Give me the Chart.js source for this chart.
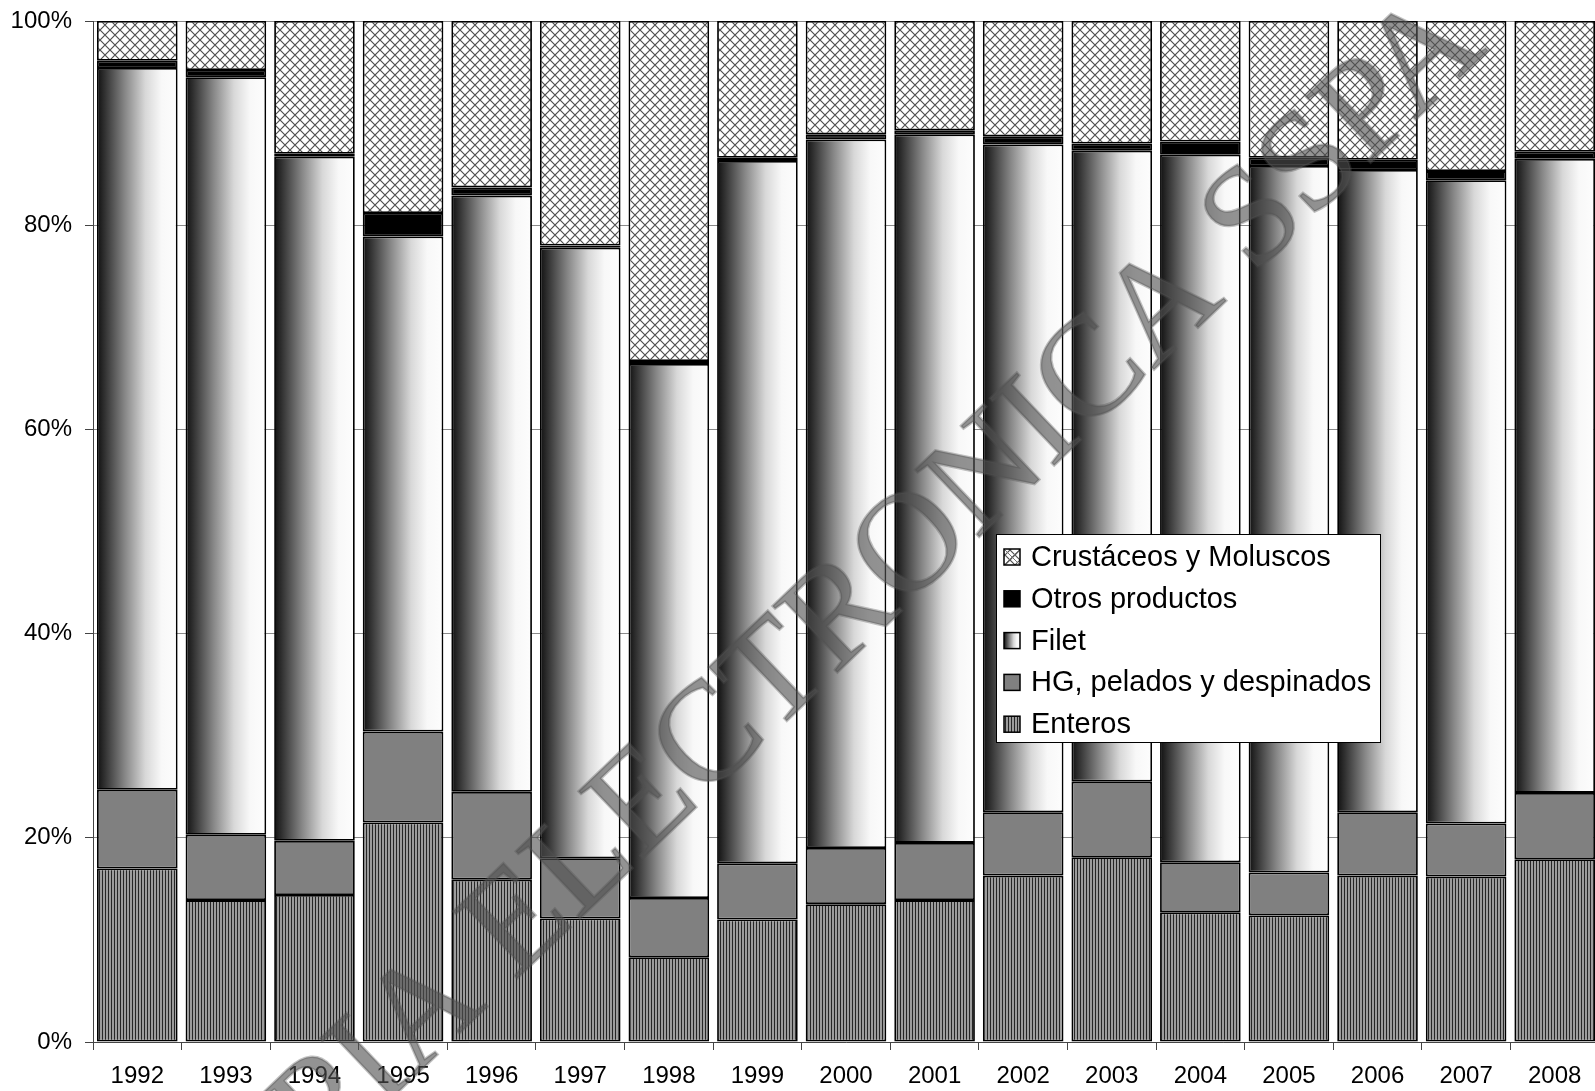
<!DOCTYPE html>
<html>
<head>
<meta charset="utf-8">
<script src="https://cdn.jsdelivr.net/npm/chart.js@4.4.1/dist/chart.umd.min.js"></script>
<style>
  html, body { margin: 0; padding: 0; background: #fff; overflow: hidden; }
  canvas { display: block; }
</style>
</head>
<body>
<canvas id="fishChart" width="1600" height="1091"></canvas>
<script>
// Datos (% del total por año)
const years = ['1992','1993','1994','1995','1996','1997','1998','1999','2000','2001','2002','2003','2004','2005','2006','2007','2008'];
const enteros    = [17.0, 13.9, 14.4, 21.5, 15.9, 12.1,  8.3, 12.0, 13.5, 13.9, 16.3, 18.1, 12.7, 12.4, 16.3, 16.2, 17.9];
const hg         = [ 7.7,  6.4,  5.3,  8.9,  8.6,  5.9,  5.8,  5.5,  5.5,  5.6,  6.2,  7.4,  4.9,  4.2,  6.2,  5.2,  6.5];
const filet      = [70.7, 74.2, 67.0, 48.5, 58.4, 59.8, 52.3, 68.8, 69.4, 69.4, 65.4, 61.8, 69.3, 69.2, 62.9, 63.0, 62.1];
const otros      = [ 0.7,  0.7,  0.3,  2.3,  0.8,  0.2,  0.3,  0.3,  0.5,  0.4,  0.8,  0.7,  1.3,  0.8,  1.0,  0.9,  0.7];
const crustaceos = [ 3.9,  4.8, 13.0, 18.8, 16.3, 22.0, 33.3, 13.4, 11.1, 10.7, 11.3, 12.0, 11.8, 13.4, 13.6, 14.7, 12.8];
const seriesNames = ['Enteros', 'HG, pelados y despinados', 'Filet', 'Otros productos', 'Crustáceos y Moluscos'];
const yTickStep = 20;

const FONT = '"Liberation Sans", Arial, sans-serif';
const BAR_PCT = 0.91;

// Patrón de rayas verticales (Enteros)
function stripePattern(ctx) {
    const c = document.createElement('canvas');
    c.width = 3; c.height = 4;
    const p = c.getContext('2d');
    p.fillStyle = '#9c9c9c';
    p.fillRect(0, 0, 3, 4);
    p.fillStyle = '#262626';
    p.fillRect(0, 0, 1, 4);
    return ctx.createPattern(c, 'repeat');
}

// Patrón cuadriculado diagonal (Crustáceos y Moluscos)
function hatchPattern(ctx) {
    const c = document.createElement('canvas');
    c.width = 10; c.height = 10;
    const p = c.getContext('2d');
    p.fillStyle = '#fff';
    p.fillRect(0, 0, 10, 10);
    p.strokeStyle = '#505050';
    p.lineWidth = 1.2;
    p.beginPath();
    p.moveTo(0, 0); p.lineTo(10, 10);
    p.moveTo(10, 0); p.lineTo(0, 10);
    p.stroke();
    return ctx.createPattern(c, 'repeat');
}

function filetGradient(ctx, x0, x1) {
    const g = ctx.createLinearGradient(x0, 0, x1, 0);
    g.addColorStop(0, '#101010');
    g.addColorStop(0.35, '#888');
    g.addColorStop(0.6, '#d8d8d8');
    g.addColorStop(0.8, '#f8f8f8');
    g.addColorStop(1, '#fdfdfd');
    return g;
}

const canvas = document.getElementById('fishChart');
const ctx2d = canvas.getContext('2d');
const stripes = stripePattern(ctx2d);
const hatch = hatchPattern(ctx2d);

function filetColor(c) {
    const chart = c.chart;
    const xs = chart.scales.x;
    if (!chart.chartArea || !xs || c.dataIndex === undefined) return '#999';
    const cx = xs.getPixelForValue(c.dataIndex);
    const w = chart.chartArea.width / years.length * BAR_PCT;
    return filetGradient(chart.ctx, cx - w / 2, cx + w / 2);
}

// Leyenda dentro del gráfico
const boxLegend = {
    id: 'boxLegend',
    afterDatasetsDraw(chart) {
        const ctx = chart.ctx;
        const x = 996, y = 534, w = 384, h = 208;
        ctx.save();
        ctx.fillStyle = '#fff';
        ctx.fillRect(x, y, w, h);
        ctx.strokeStyle = '#000';
        ctx.lineWidth = 1;
        ctx.strokeRect(x + 0.5, y + 0.5, w, h);
        const fills = [hatch, '#000', null, '#808080', stripes];
        const names = seriesNames.slice().reverse();
        ctx.font = '29px ' + FONT;
        ctx.textBaseline = 'middle';
        names.forEach((name, i) => {
            const cy = 557 + i * 41.8;
            const sx = 1004, sy = cy - 8;
            ctx.fillStyle = fills[i] || filetGradient(ctx, sx, sx + 16);
            ctx.fillRect(sx, sy, 16, 16);
            if (i === 0) {
                ctx.strokeStyle = '#777';
                ctx.lineWidth = 1;
                ctx.beginPath();
                ctx.moveTo(sx, sy); ctx.lineTo(sx + 16, sy + 16);
                ctx.moveTo(sx + 16, sy); ctx.lineTo(sx, sy + 16);
                ctx.stroke();
            }
            ctx.strokeStyle = '#000';
            ctx.lineWidth = 1.5;
            ctx.strokeRect(sx, sy, 16, 16);
            ctx.fillStyle = '#000';
            ctx.fillText(name, 1031, cy + 1);
        });
        ctx.restore();
    }
};

// Marca de agua
const watermark = {
    id: 'watermark',
    afterDraw(chart) {
        const ctx = chart.ctx;
        ctx.save();
        ctx.translate(809, 648);
        ctx.rotate(-43.7 * Math.PI / 180);
        ctx.font = '142px "Liberation Serif", "DejaVu Serif", serif';
        ctx.fillStyle = 'rgba(80,80,80,0.62)';
        ctx.strokeStyle = 'rgba(80,80,80,0.35)';
        ctx.lineWidth = 2.5;
        ctx.textAlign = 'center';
        ctx.textBaseline = 'middle';
        ctx.fillText('COPIA ELECTRONICA SSPA', 0, 0);
        ctx.strokeText('COPIA ELECTRONICA SSPA', 0, 0);
        ctx.restore();
    }
};

const common = {
    borderColor: '#000',
    borderWidth: 1.8,
    borderSkipped: false,
    barPercentage: BAR_PCT,
    categoryPercentage: 1.0
};

new Chart(ctx2d, {
    type: 'bar',
    data: {
        labels: years,
        datasets: [
            { label: seriesNames[0], data: enteros, backgroundColor: stripes, ...common },
            { label: seriesNames[1], data: hg, backgroundColor: '#808080', ...common },
            { label: seriesNames[2], data: filet, backgroundColor: filetColor, ...common },
            { label: seriesNames[3], data: otros, backgroundColor: '#000', ...common },
            { label: seriesNames[4], data: crustaceos, backgroundColor: hatch, ...common }
        ]
    },
    options: {
        responsive: false,
        animation: false,
        layout: { padding: { top: 21, right: 1, left: 0, bottom: 0 } },
        plugins: {
            legend: { display: false },
            tooltip: { enabled: false }
        },
        scales: {
            x: {
                stacked: true,
                afterFit: s => { s.height = 49; s.paddingLeft = 0; s.paddingRight = 0; },
                grid: { drawOnChartArea: false, drawTicks: true, tickLength: 8, color: '#444' },
                border: { color: '#444', width: 1 },
                ticks: { color: '#000', font: { family: FONT, size: 24 }, padding: 12, maxRotation: 0 }
            },
            y: {
                stacked: true,
                min: 0,
                max: 100,
                afterFit: s => { s.width = 93; s.paddingTop = 0; s.paddingBottom = 0; },
                grid: { color: '#8a8a8a', tickColor: '#444', tickLength: 8 },
                border: { color: '#444', width: 1 },
                ticks: {
                    stepSize: yTickStep,
                    color: '#000',
                    padding: 13,
                    font: { family: FONT, size: 24 },
                    callback: v => v + '%'
                }
            }
        }
    },
    plugins: [boxLegend, watermark]
});
</script>
</body>
</html>
